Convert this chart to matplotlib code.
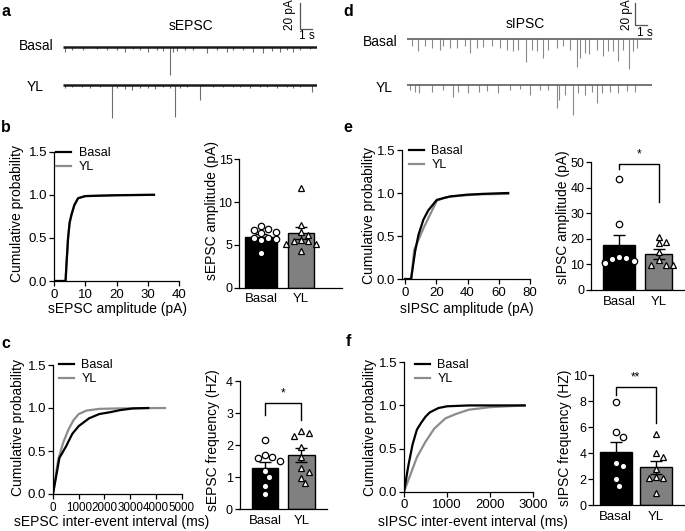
import matplotlib
matplotlib.use('Agg')
import matplotlib.pyplot as plt
import numpy as np

plt.rcParams['font.family'] = ['Liberation Sans', 'DejaVu Sans']
plt.rcParams['font.size'] = 9.5
plt.rcParams['axes.linewidth'] = 0.9

# ---------------- data ----------------
groups = ['Basal', 'YL']

# a: sEPSC example traces (event time s, amplitude pA)
sepsc_basal_t = [0.16, 0.70, 1.65, 2.74, 3.55, 4.36, 5.04, 5.72, 6.26, 6.94, 7.62, 8.16, 8.70, 8.92, 9.24,
                 9.92, 10.60, 11.68, 12.49, 13.31, 13.85, 14.66, 15.47, 16.29, 16.96, 17.64, 18.18, 18.73, 19.27, 20.08]
sepsc_basal_amp = [3.8, 2.6, 2.6, 2.1, 2.6, 2.6, 3.8, 2.1, 2.6, 3.8, 2.6, 3.1, 21.8, 3.8, 3.1,
                   2.6, 2.6, 5.1, 2.6, 3.8, 2.6, 2.6, 3.8, 5.1, 3.1, 3.8, 2.6, 3.8, 2.6, 2.1]
sepsc_yl_t = [0.16, 0.70, 1.52, 2.20, 3.01, 3.96, 4.36, 5.04, 5.58, 6.26, 6.94, 7.48, 8.16, 8.70, 9.11,
              9.51, 10.05, 11.14, 12.22, 13.04, 13.85, 14.39, 15.20, 16.02, 16.56, 17.37, 18.18, 18.73, 19.27, 20.22]
sepsc_yl_amp = [2.6, 1.8, 1.8, 2.6, 1.8, 25.6, 2.6, 3.3, 3.8, 2.6, 2.6, 3.3, 1.8, 2.6, 24.4,
                2.6, 1.8, 11.5, 1.8, 1.8, 1.8, 1.8, 2.6, 1.8, 1.8, 2.6, 1.8, 2.6, 1.8, 5.1]

# d: sIPSC example traces
sipsc_basal_t = [0.40, 0.97, 1.54, 2.11, 2.82, 3.11, 3.68, 4.25, 4.96, 5.38, 5.95, 6.52, 7.24, 7.95, 8.52,
                 9.09, 9.52, 10.17, 10.66, 11.08, 11.65, 12.08, 12.79, 13.36, 13.93, 14.50, 14.79, 15.21, 15.58,
                 16.21, 16.78, 17.21, 17.64, 18.06, 18.49, 19.00, 19.34, 19.69]
sipsc_basal_amp = [7.1, 11.7, 7.1, 8.6, 10.2, 7.1, 8.6, 8.6, 7.1, 13.3, 8.6, 8.0, 7.1, 8.6, 10.2,
                   11.7, 10.2, 21.6, 10.2, 11.7, 17.9, 10.2, 8.6, 7.1, 10.2, 26.5, 17.9, 13.3, 14.8,
                   10.2, 16.4, 11.7, 11.7, 21.0, 10.2, 28.7, 11.7, 8.6]
sipsc_yl_t = [0.26, 0.68, 1.05, 2.11, 3.11, 3.90, 4.39, 5.24, 6.18, 6.87, 7.81, 8.80, 9.66, 10.51, 11.37,
              12.08, 12.79, 13.02, 13.50, 14.22, 14.64, 15.21, 15.78, 16.21, 16.64, 17.35, 18.06, 18.77, 19.49]
sipsc_yl_amp = [4.6, 6.2, 7.7, 6.2, 4.6, 10.8, 6.2, 7.7, 6.2, 5.6, 7.7, 4.6, 3.7, 9.3, 4.6,
                4.6, 21.6, 13.9, 9.3, 27.8, 7.7, 9.3, 6.8, 17.0, 7.7, 6.2, 7.7, 5.6, 6.2]

# b: sEPSC amplitude
cdf_b_basal_x = [0, 3.7, 4.0, 4.5, 5.0, 5.6, 6.5, 7.7, 10, 20, 32]
cdf_b_basal_y = [0, 0, 0.2, 0.5, 0.68, 0.77, 0.88, 0.96, 0.985, 0.995, 1.0]
cdf_b_yl_x = [0, 3.7, 4.0, 4.5, 5.0, 5.6, 6.5, 7.7, 10, 20, 32]
cdf_b_yl_y = [0, 0, 0.19, 0.49, 0.67, 0.77, 0.88, 0.96, 0.985, 0.995, 1.0]
b_mean = [5.9, 6.35]
b_sem = [0.35, 0.7]
b_basal_pts = [7.2, 6.8, 6.5, 6.4, 6.7, 5.8, 5.6, 5.7, 5.8, 4.1]
b_yl_pts = [11.6, 7.3, 6.5, 6.2, 5.1, 5.6, 5.4, 5.5, 5.1, 4.3]

# e: sIPSC amplitude
cdf_e_basal_x = [0, 3.8, 6.4, 8.5, 11.7, 14.9, 20.3, 28.8, 39.4, 50, 66]
cdf_e_basal_y = [0, 0, 0.32, 0.51, 0.69, 0.80, 0.92, 0.96, 0.98, 0.99, 1.0]
cdf_e_yl_x = [0, 4, 5.8, 12, 20.3, 25, 30, 40, 50, 66]
cdf_e_yl_y = [0, 0, 0.34, 0.6, 0.91, 0.945, 0.96, 0.975, 0.985, 0.99]
e_mean = [17.5, 14.0]
e_sem = [4.2, 2.0]
e_basal_pts = [43.5, 26, 12.5, 12.8, 12.2, 11, 11.2, 10.5]
e_yl_pts = [18.9, 20.9, 18.3, 14.7, 9.8, 9.8, 9.8, 11.7]

# c: sEPSC inter-event interval / frequency
cdf_c_basal_x = [0, 250, 500, 750, 1000, 1400, 1800, 2200, 2600, 3100, 3700]
cdf_c_basal_y = [0, 0.42, 0.55, 0.7, 0.79, 0.88, 0.93, 0.95, 0.975, 0.995, 1.0]
cdf_c_yl_x = [0, 200, 400, 600, 800, 1000, 1300, 1800, 2500, 4350]
cdf_c_yl_y = [0, 0.4, 0.6, 0.75, 0.86, 0.93, 0.97, 0.99, 0.995, 1.0]
c_mean = [1.3, 1.7]
c_sem = [0.19, 0.21]
c_basal_pts = [2.15, 1.7, 1.63, 1.6, 1.5, 1.2, 1.0, 0.72, 0.48]
c_yl_pts = [2.37, 2.3, 2.44, 1.95, 1.64, 1.3, 1.17, 0.99, 0.81]

# f: sIPSC inter-event interval / frequency
cdf_f_basal_x = [0, 100, 200, 300, 400, 500, 600, 800, 1000, 1500, 2800]
cdf_f_basal_y = [0, 0.3, 0.55, 0.72, 0.8, 0.87, 0.92, 0.97, 0.99, 1.0, 1.0]
cdf_f_yl_x = [0, 150, 300, 500, 700, 960, 1200, 1500, 2000, 2800]
cdf_f_yl_y = [0, 0.2, 0.4, 0.58, 0.73, 0.85, 0.9, 0.95, 0.98, 1.0]
f_mean = [4.1, 2.9]
f_sem = [0.72, 0.51]
f_basal_pts = [7.9, 5.6, 5.2, 3.2, 3.0, 2.0, 1.5]
f_yl_pts = [5.46, 4.03, 3.72, 2.74, 2.05, 2.05, 2.18, 0.9]

# ---------------- layout helpers ----------------
W, H = 685, 531
fig = plt.figure(figsize=(W / 100, H / 100), dpi=100)
LABEL_FS = 10


def box(x0, y0, x1, y1):
    return [x0 / W, 1 - y1 / H, (x1 - x0) / W, (y1 - y0) / H]


def fx(px):
    return px / W


def fy(py):
    return 1 - py / H


def style_axes(ax, ytick_fs=9.5):
    for s in ('top', 'right'):
        ax.spines[s].set_visible(False)
    ax.tick_params(direction='out', length=3.5, width=0.9, labelsize=9.5, pad=2, colors='black')
    ax.tick_params(axis='y', labelsize=ytick_fs, pad=1.5)


def set_labels(ax, xlabel, xl_pos, ylabel, yl_pos):
    if xlabel:
        ax.set_xlabel(xlabel, fontsize=LABEL_FS)
        ax.xaxis.set_label_coords(fx(xl_pos[0]), fy(xl_pos[1]), transform=fig.transFigure)
        ax.xaxis.label.set_va('center')
    ax.set_ylabel(ylabel, fontsize=LABEL_FS)
    ax.yaxis.set_label_coords(fx(yl_pos[0]), fy(yl_pos[1]), transform=fig.transFigure)
    ax.yaxis.label.set_va('center')


# ---------------- trace panels ----------------
def trace_panel(x0, x1, px_per_s, px_per_pA, base_px, traces, base_color, base_lw, ev_color,
                scale_corner_px, title, title_pos, label_pos, sb_text_pos):
    ax = fig.add_axes(box(x0, 0, x1, 125))
    dur = (x1 - x0) / px_per_s
    ax.set_xlim(0, dur)
    ax.set_ylim(-(125 - base_px[0]) / px_per_pA, base_px[0] / px_per_pA)
    ax.axis('off')
    for (t, a), bpx in zip(traces, base_px):
        off = -(bpx - base_px[0]) / px_per_pA
        ax.vlines(t, off, off - np.array(a), color=ev_color, lw=0.8, zorder=1)
        ax.plot([0, dur], [off, off], color=base_color, lw=base_lw, zorder=2,
                solid_capstyle='butt')
    # scale bar: 20 pA, 1 s
    sx = (scale_corner_px[0] - x0) / px_per_s
    sy = (base_px[0] - scale_corner_px[1]) / px_per_pA
    ax.plot([sx, sx, sx + 1], [sy + 20, sy, sy], color='#555555', lw=0.9, clip_on=False)
    fig.text(fx(sb_text_pos[0][0]), fy(sb_text_pos[0][1]), '20 pA', rotation=90, ha='center',
             va='center', fontsize=8.5)
    fig.text(fx(sb_text_pos[1][0]), fy(sb_text_pos[1][1]), '1 s', ha='center', va='center', fontsize=8.5)
    fig.text(fx(title_pos[0]), fy(title_pos[1]), title, ha='center', va='center', fontsize=10)
    for g, (lx, ly) in zip(groups, label_pos):
        fig.text(fx(lx), fy(ly), g, ha='center', va='center', fontsize=10)


trace_panel(63, 317, 12.3, 1.3, [46.7, 85],
            [(sepsc_basal_t, sepsc_basal_amp), (sepsc_yl_t, sepsc_yl_amp)],
            '#1a1a1a', 1.8, '#6e6e6e', (300, 29), 'sEPSC', (191, 26),
            [(36, 46.5), (35, 87)], [(290, 15), (307, 36)])
trace_panel(407, 652, 11.7, 1.08, [38.5, 85],
            [(sipsc_basal_t, sipsc_basal_amp), (sipsc_yl_t, sipsc_yl_amp)],
            '#505050', 1.1, '#8a8a8a', (635, 25), 'sIPSC', (525, 23.5),
            [(380, 41.5), (384, 88)], [(627, 15), (645, 33)])


# ---------------- CDF panels ----------------
def cdf_panel(rect, xlim, xticks, bx, by, yx, yy, xlabel, xl_pos, yl_pos, leg_anchor, xtick_fs=9.5):
    ax = fig.add_axes(box(*rect))
    style_axes(ax)
    ax.plot(yx, yy, color='#8c8c8c', lw=1.6, label='YL', zorder=2)
    ax.plot(bx, by, color='black', lw=1.6, label='Basal', zorder=3)
    ax.set_xlim(*xlim)
    ax.set_ylim(0, 1.5)
    ax.set_xticks(xticks)
    ax.set_xticklabels([str(v) for v in xticks], fontsize=xtick_fs)
    ax.set_yticks([0, 0.5, 1.0, 1.5])
    ax.set_yticklabels(['0.0', '0.5', '1.0', '1.5'])
    h, l = ax.get_legend_handles_labels()
    ax.legend(h[::-1], l[::-1], loc='upper left', bbox_to_anchor=(fx(leg_anchor[0]), fy(leg_anchor[1])),
              bbox_transform=fig.transFigure, frameon=False, fontsize=9, handlelength=1.2,
              handletextpad=0.6, labelspacing=0.2, borderpad=0, borderaxespad=0)
    set_labels(ax, xlabel, xl_pos, 'Cumulative probability', yl_pos)
    return ax


cdf_panel((54, 151.7, 179, 281), (0, 40), [0, 10, 20, 30, 40],
          cdf_b_basal_x, cdf_b_basal_y, cdf_b_yl_x, cdf_b_yl_y,
          'sEPSC amplitude (pA)', (118, 309), (17, 214), (56, 147))
cdf_panel((402, 150, 530, 279), (-2, 80), [0, 20, 40, 60, 80],
          cdf_e_basal_x, cdf_e_basal_y, cdf_e_yl_x, cdf_e_yl_y,
          'sIPSC amplitude (pA)', (467, 309), (369, 215), (409, 145))
cdf_panel((53, 365, 181.7, 494), (0, 5000), [0, 1000, 2000, 3000, 4000, 5000],
          cdf_c_basal_x, cdf_c_basal_y, cdf_c_yl_x, cdf_c_yl_y,
          'sEPSC inter-event interval (ms)', (112, 522), (18, 428), (59, 359), xtick_fs=8.4)
cdf_panel((404, 362.3, 533.3, 491.7), (0, 3000), [0, 1000, 2000, 3000],
          cdf_f_basal_x, cdf_f_basal_y, cdf_f_yl_x, cdf_f_yl_y,
          'sIPSC inter-event interval (ms)', (473, 522), (370, 427), (415, 359))


# ---------------- bar panels ----------------
def swarm_offsets(ax, xc, vals, d=6.6):
    tr = ax.transData
    ys = tr.transform(np.column_stack([np.full(len(vals), xc), vals]))[:, 1]
    ppu = tr.transform((1, 0))[0] - tr.transform((0, 0))[0]
    order = np.argsort(-ys)
    placed = []
    offs = np.zeros(len(vals))
    cands = [0, 0.55, -0.55, 1.1, -1.1, 1.65, -1.65, 2.2, -2.2]
    for i in order:
        for c in cands:
            px = c * d
            if all((px - q[0]) ** 2 + (ys[i] - q[1]) ** 2 >= d * d for q in placed):
                break
        placed.append((px, ys[i]))
        offs[i] = px / ppu
    return offs


def bar_panel(rect, xlim, ylim, yticks, means, sems, pts_b, pts_y, widths, ylabel, yl_pos, sig=None):
    ax = fig.add_axes(box(*rect))
    style_axes(ax, ytick_fs=9)
    ax.tick_params(axis='y', pad=1.2)
    ax.set_xlim(*xlim)
    ax.set_ylim(*ylim)
    ax.set_yticks(yticks)
    ax.set_xticks([0, 1])
    ax.set_xticklabels(groups, fontsize=9.5)
    ax.tick_params(axis='x', length=0, pad=4)
    ax.bar([0, 1], means, width=widths, color=['black', '#808080'], edgecolor='black', linewidth=1,
           zorder=1)
    ax.errorbar([0, 1], means, yerr=sems, fmt='none', ecolor='black', elinewidth=1, capsize=4,
                capthick=1, zorder=2)
    for xc, vals, mk in ((0, pts_b, 'o'), (1, pts_y, '^')):
        offs = swarm_offsets(ax, xc, vals)
        ax.plot(xc + offs, vals, ls='none', marker=mk, ms=4.6 if mk == 'o' else 5.0, mfc='white',
                mec='black', mew=0.9, zorder=3, clip_on=False)
    if sig is not None:
        top, lleg, rleg, star, star_y = sig
        ax.plot([0, 0, 1, 1], [lleg, top, top, rleg], color='black', lw=1, clip_on=False)
        ax.text(0.5, star_y, star, ha='center', va='center', fontsize=8.5)
    set_labels(ax, None, None, ylabel, yl_pos)
    return ax


bar_panel((239, 159.3, 342, 287.7), (-0.55, 2.025), (0, 15), [0, 5, 10, 15],
          b_mean, b_sem, b_basal_pts, b_yl_pts, [0.79, 0.63],
          'sEPSC amplitude (pA)', (212, 210))
bar_panel((591, 162.3, 685, 290), (-0.71, 1.67), (0, 50), [0, 10, 20, 30, 40, 50],
          e_mean, e_sem, e_basal_pts, e_yl_pts, [0.81, 0.68],
          'sIPSC amplitude (pA)', (563.5, 217), sig=(49.5, 47.3, 34.3, '*', 53))
bar_panel((239.5, 381, 327, 509.3), (-0.70, 1.70), (0, 4), [0, 1, 2, 3, 4],
          c_mean, c_sem, c_basal_pts, c_yl_pts, [0.71, 0.74],
          'sEPSC frequency (HZ)', (213, 440), sig=(3.3, 2.94, 2.78, '*', 3.6))
bar_panel((593.3, 375, 685, 505), (-0.5625, 1.73), (0, 10), [0, 2, 4, 6, 8, 10],
          f_mean, f_sem, f_basal_pts, f_yl_pts, [0.79, 0.79],
          'sIPSC frequency (HZ)', (565.5, 438), sig=(9.1, 8.5, 6.3, '**', 9.8))

# ---------------- panel letters ----------------
for letter, (px, py) in zip('abcdef', [(6, 11), (6, 127), (6, 343), (348, 12), (348, 127), (348, 342)]):
    fig.text(fx(px), fy(py), letter, fontsize=11.5, fontweight='bold', ha='center', va='center')

fig.savefig('out.png', dpi=100)
